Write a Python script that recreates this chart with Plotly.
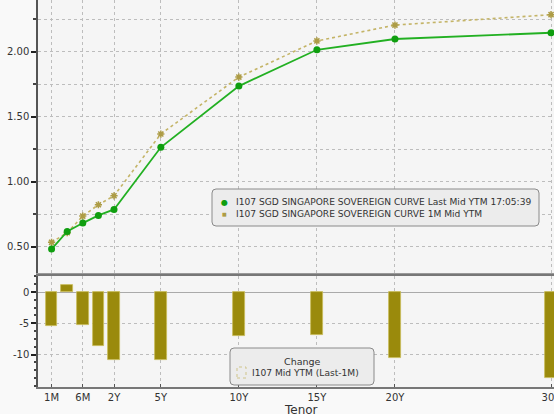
import plotly.graph_objects as go

# ---- data ----
tenors = ["1M", "3M", "6M", "1Y", "2Y", "5Y", "10Y", "15Y", "20Y", "30Y"]
tenor_axis = [-2, -1, 0, 1, 2, 5, 10, 15, 20, 30]   # axis coordinate of each tenor
last_ytm = [0.482, 0.618, 0.682, 0.741, 0.787, 1.265, 1.736, 2.015, 2.098, 2.146]
m1_ytm = [0.534, 0.608, 0.736, 0.823, 0.892, 1.367, 1.805, 2.083, 2.205, 2.285]
change_bp = [-5.4, 1.1, -5.2, -8.6, -10.8, -10.9, -7.0, -6.8, -10.5, -13.8]
tick_labels = ["1M", "6M", "2Y", "5Y", "10Y", "15Y", "20Y", "30Y"]
tick_pos = [-2, 0, 2, 5, 10, 15, 20, 30]

name_last = "I107 SGD SINGAPORE SOVEREIGN CURVE Last Mid YTM 17:05:39"
name_1m = "I107 SGD SINGAPORE SOVEREIGN CURVE 1M Mid YTM"
name_chg = "I107 Mid YTM (Last-1M)"

GREEN = "#22b022"
GREEN_M = "#0f9e0f"
TAN = "#c4b467"
TAN_M = "#ad9c45"
BAR = "#9a8a0c"
FONT = "DejaVu Sans"

W, H = 554, 414
ML, MR, MT, MB = 38, 0, 0, 27
PW, PH = W - ML - MR, H - MT - MB


def px(x):
    return (x - ML) / PW


def py(y):
    return 1 - (y - MT) / PH


def rounded_box(x0, y0, x1, y1, r=4):
    rx, ry = r / PW, r / PH
    X0, X1, Y0, Y1 = px(x0), px(x1), py(y1), py(y0)
    return (f"M {X0+rx},{Y0} L {X1-rx},{Y0} Q {X1},{Y0} {X1},{Y0+ry} "
            f"L {X1},{Y1-ry} Q {X1},{Y1} {X1-rx},{Y1} L {X0+rx},{Y1} "
            f"Q {X0},{Y1} {X0},{Y1-ry} L {X0},{Y0+ry} Q {X0},{Y0} {X0+rx},{Y0} Z")


fig = go.Figure()

fig.add_trace(go.Scatter(
    x=tenor_axis, y=m1_ytm, mode="lines+markers", name=name_1m,
    line=dict(color=TAN, width=1.6, dash="dot"),
    marker=dict(symbol="asterisk", size=6, color=TAN_M, line=dict(color=TAN_M, width=1.5)),
    xaxis="x", yaxis="y", showlegend=False, hovertext=tenors))
fig.add_trace(go.Scatter(
    x=tenor_axis, y=last_ytm, mode="lines+markers", name=name_last,
    line=dict(color=GREEN, width=1.8),
    marker=dict(symbol="circle", size=7, color=GREEN_M),
    xaxis="x", yaxis="y", showlegend=False, hovertext=tenors))
fig.add_trace(go.Bar(
    x=tenor_axis, y=change_bp, name=name_chg, width=0.74,
    marker=dict(color=BAR, line=dict(color="#c8bc58", width=0.8)),
    xaxis="x2", yaxis="y2", showlegend=False, hovertext=tenors))

XR = [-2.87, 30.19]
grid = dict(showgrid=True, gridcolor="#bdbdbd", griddash="dot", gridwidth=1)

shapes = [
    dict(type="path", xref="paper", yref="paper", path=rounded_box(212, 189, 539, 226),
         fillcolor="#ececec", line=dict(color="#8a8a8a", width=1), layer="above"),
    dict(type="path", xref="paper", yref="paper", path=rounded_box(230, 348, 374, 385),
         fillcolor="#ececec", line=dict(color="#8a8a8a", width=1), layer="above"),
    dict(type="rect", xref="paper", yref="paper", x0=px(237), x1=px(246), y0=py(378), y1=py(367),
         fillcolor="rgba(0,0,0,0)", line=dict(color="#cfc48a", width=1, dash="dot"), layer="above"),
]

tfont = dict(family=FONT, size=9.1, color="#333333")
annotations = [
    dict(text="●", x=px(224.5), y=py(202), xanchor="center", yanchor="middle",
         font=dict(family=FONT, size=8, color=GREEN_M)),
    dict(text="■", x=px(224.5), y=py(213.5), xanchor="center", yanchor="middle",
         font=dict(family=FONT, size=5, color=TAN_M)),
    dict(text=name_last, x=px(234), y=py(202), xanchor="left", yanchor="middle", font=tfont),
    dict(text=name_1m, x=px(234), y=py(213.5), xanchor="left", yanchor="middle", font=tfont),
    dict(text="Change", x=px(302), y=py(361), xanchor="center", yanchor="middle",
         font=dict(family=FONT, size=9.5, color="#333333")),
    dict(text=name_chg, x=px(250), y=py(373), xanchor="left", yanchor="middle", font=tfont),
    dict(text="Tenor", x=px(301), y=py(401), xanchor="center", yanchor="top",
         font=dict(family=FONT, size=12, color="#333333")),
]
for a in annotations:
    a.update(xref="paper", yref="paper", showarrow=False)

fig.update_layout(
    width=W, height=H,
    margin=dict(l=ML, r=MR, t=MT, b=MB),
    paper_bgcolor="#f9f9f9", plot_bgcolor="#f5f5f5",
    font=dict(family=FONT, size=10, color="#333333"),
    showlegend=False,
    xaxis=dict(domain=[0, 1], range=XR, anchor="y", tickvals=tick_pos, ticktext=tick_labels,
               showticklabels=False, showline=True, linecolor="#9a9a9a", linewidth=2,
               ticks="", zeroline=False, automargin=False, **grid),
    yaxis=dict(domain=[py(273), 1], range=[0.298, 2.398], anchor="x",
               tickvals=[0.5, 1.0, 1.5, 2.0], ticktext=["0.50", "1.00", "1.50", "2.00"],
               ticks="outside", ticklen=5, tickwidth=2, tickcolor="#222222",
               showline=True, linecolor="#555555", linewidth=1.5, zeroline=False,
               showgrid=False, automargin=False,
               minor=dict(tickvals=[0.25, 0.5, 0.75, 1.0, 1.25, 1.5, 1.75, 2.0, 2.25],
                          ticks="outside", ticklen=3, tickcolor="#444444",
                          showgrid=True, gridcolor="#bdbdbd", griddash="dot")),
    xaxis2=dict(domain=[0, 1], range=XR, anchor="y2", tickvals=tick_pos, ticktext=tick_labels,
                ticks="inside", ticklen=3, tickcolor="#555555",
                ticklabeloverflow="allow",
                showline=True, linecolor="#777777", linewidth=1.5, mirror=True,
                zeroline=False, automargin=False, **grid),
    yaxis2=dict(domain=[0, py(276)], range=[-15.2, 2.57], anchor="x2",
                tickvals=[0, -5, -10], ticktext=["0", "-5", "-10"],
                ticks="outside", ticklen=5, tickwidth=2, tickcolor="#222222",
                showline=True, linecolor="#555555", linewidth=1.5,
                zeroline=True, zerolinecolor="#aaaaaa", zerolinewidth=1.2,
                showgrid=True, gridcolor="#bdbdbd", griddash="dot", automargin=False,
                minor=dict(dtick=1.25, ticks="outside", ticklen=2, tickcolor="#444444")),
    shapes=shapes,
    annotations=annotations,
    bargap=0,
)

fig.write_html("out.html", post_script="document.body.style.margin='0';",
               config={"displayModeBar": False})
